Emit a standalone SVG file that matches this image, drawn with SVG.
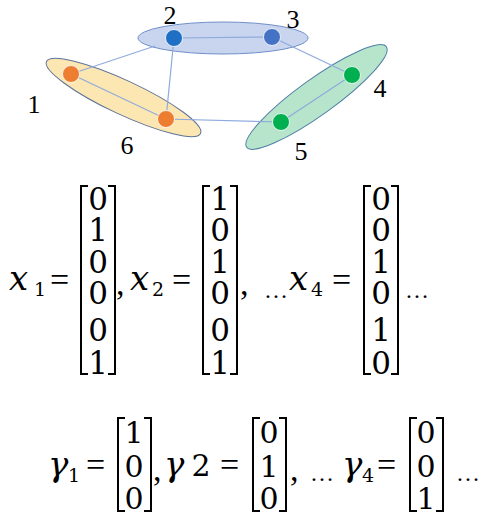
<svg xmlns="http://www.w3.org/2000/svg" width="482" height="516" viewBox="0 0 482 516">
<style>
.lbl{font-family:'Liberation Serif',serif;font-size:26px;text-anchor:middle;fill:#000}
.d{font-family:'DejaVu Serif',serif;fill:#000}
.s{font-family:'Liberation Serif',serif;fill:#000}
.eq{font-size:34px}
.mc{font-size:31px;text-anchor:middle}
.mc2{font-size:30px;text-anchor:middle}
.it{font-style:italic;font-size:34px}
.sub{font-size:19px}
.dots{font-size:24px}
.br{fill:none;stroke:#000;stroke-width:2}
.edge{stroke:#8FAADC;stroke-width:1.2;fill:none}
.node{stroke:#fff;stroke-width:0.8}
</style>
<rect width="482" height="516" fill="#fff"/>
<g id="groups">
<ellipse id="grp-blue" cx="223" cy="38" rx="85" ry="16" fill="#C9D5EE" stroke="#6F8FC9" stroke-width="1"/>
<ellipse id="grp-orange" cx="123.5" cy="97.5" rx="85" ry="17" transform="rotate(25 123.5 97.5)" fill="#FCE7B2" stroke="#5E7398" stroke-width="1"/>
<ellipse id="grp-green" cx="316.5" cy="97" rx="86" ry="18" transform="rotate(-35.7 316.5 97)" fill="#B6E5CB" stroke="#4E7FA6" stroke-width="1"/>
</g>
<g id="connectors">
<line class="edge" x1="71" y1="74" x2="155" y2="46"/>
<line class="edge" x1="71" y1="74" x2="166" y2="119"/>
<line class="edge" x1="174" y1="38" x2="272" y2="37"/>
<line class="edge" x1="174" y1="38" x2="166" y2="119"/>
<line class="edge" x1="272" y1="37" x2="352" y2="75"/>
<line class="edge" x1="166" y1="119" x2="281" y2="122"/>
<line class="edge" x1="281" y1="122" x2="352" y2="75"/>
</g>
<g id="node1"><circle class="node" cx="71" cy="74" r="8.5" fill="#ED7D31"/><text class="lbl" x="34" y="113" font-size="29">1</text></g>
<g id="node2"><circle class="node" cx="174" cy="38" r="8.5" fill="#1F6FC5"/><text class="lbl" x="170" y="24">2</text></g>
<g id="node3"><circle class="node" cx="272" cy="37" r="8.5" fill="#4472C4"/><text class="lbl" x="293" y="28">3</text></g>
<g id="node4"><circle class="node" cx="352" cy="75" r="8.5" fill="#00B050"/><text class="lbl" x="380" y="97">4</text></g>
<g id="node5"><circle class="node" cx="281" cy="122" r="8.5" fill="#00B050"/><text class="lbl" x="301" y="160">5</text></g>
<g id="node6"><circle class="node" cx="166" cy="119" r="8.5" fill="#ED7D31"/><text class="lbl" x="127" y="154">6</text></g>

<g id="row1">
<text class="d it" x="9" y="290">x</text><text class="d sub" x="34" y="296">1</text>
<text class="s eq" x="50" y="291">=</text>
<path class="br" d="M88,186 H81 V374 H88"/><path class="br" d="M108,186 H115 V374 H108"/>
<text class="d mc" x="98" y="210">0</text><text class="d mc" x="98" y="241">1</text><text class="d mc" x="98" y="273">0</text><text class="d mc" x="98" y="304">0</text><text class="d mc" x="98" y="341">0</text><text class="d mc" x="98" y="374">1</text>
<text class="s eq" x="116" y="295">,</text>
<text class="d it" x="130" y="290">x</text><text class="d sub" x="152" y="296">2</text>
<text class="s eq" x="172" y="291">=</text>
<path class="br" d="M210,186 H203 V374 H210"/><path class="br" d="M230,186 H237 V374 H230"/>
<text class="d mc" x="220" y="210">1</text><text class="d mc" x="220" y="241">0</text><text class="d mc" x="220" y="273">1</text><text class="d mc" x="220" y="304">0</text><text class="d mc" x="220" y="341">0</text><text class="d mc" x="220" y="374">1</text>
<text class="s eq" x="240" y="295">,</text>
<text class="s dots" x="264" y="298">…</text>
<text class="d it" x="289" y="290">x</text><text class="d sub" x="311" y="296">4</text>
<text class="s eq" x="332" y="291">=</text>
<path class="br" d="M371,186 H364 V374 H371"/><path class="br" d="M391,186 H398 V374 H391"/>
<text class="d mc" x="381" y="210">0</text><text class="d mc" x="381" y="241">0</text><text class="d mc" x="381" y="273">1</text><text class="d mc" x="381" y="304">0</text><text class="d mc" x="381" y="341">1</text><text class="d mc" x="381" y="374">0</text>
<text class="s dots" x="405" y="298">…</text>
</g>

<g id="row2">
<text class="d it" x="48" y="476">γ</text><text class="d sub" x="68" y="482">1</text>
<text class="s eq" x="86" y="476">=</text>
<path class="br" d="M125,418 H118 V511 H125"/><path class="br" d="M144,418 H151 V511 H144"/>
<text class="d mc2" x="134" y="443">1</text><text class="d mc2" x="134" y="477">0</text><text class="d mc2" x="134" y="509">0</text>
<text class="s eq" x="153" y="481">,</text>
<text class="d it" x="164" y="476">γ</text><text class="d mc2" x="201" y="476">2</text>
<text class="s eq" x="220" y="476">=</text>
<path class="br" d="M260,418 H253 V511 H260"/><path class="br" d="M279,418 H286 V511 H279"/>
<text class="d mc2" x="269" y="443">0</text><text class="d mc2" x="269" y="477">1</text><text class="d mc2" x="269" y="509">0</text>
<text class="s eq" x="290" y="481">,</text>
<text class="s dots" x="310" y="481">…</text>
<text class="d it" x="342" y="476">γ</text><text class="d sub" x="362" y="482">4</text>
<text class="s eq" x="377" y="476">=</text>
<path class="br" d="M417,418 H410 V511 H417"/><path class="br" d="M436,418 H443 V511 H436"/>
<text class="d mc2" x="426" y="443">0</text><text class="d mc2" x="426" y="477">0</text><text class="d mc2" x="426" y="509">1</text>
<text class="s dots" x="456" y="481">…</text>
</g>
</svg>
